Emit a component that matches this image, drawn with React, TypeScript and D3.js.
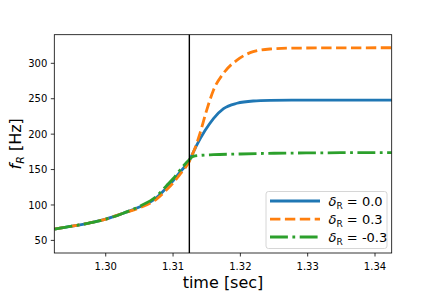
import React from "react";
import * as d3 from "d3";

const W = 436;
const H = 291;

// time axis ticks
const xTicks = [1.3, 1.31, 1.32, 1.33, 1.34];
const yTicks = [50, 100, 150, 200, 250, 300];
const mergerTime = 1.31242;

// series samples
const blueTime = [1.2924, 1.295, 1.2975, 1.3, 1.3025, 1.305, 1.3075, 1.309, 1.31, 1.311, 1.312, 1.3124, 1.3126, 1.3135, 1.31475, 1.316, 1.3175, 1.3195, 1.3219, 1.3244, 1.33, 1.3425];
const blueFreq = [66, 70, 74.5, 80, 88, 97, 110, 124, 134, 146, 157, 162, 166, 184, 205, 222, 236, 243.6, 246.8, 247.6, 248, 248];

const orangeTime = [1.2924, 1.295, 1.2975, 1.3, 1.3025, 1.305, 1.3075, 1.309, 1.31, 1.311, 1.312, 1.3124, 1.3126, 1.313, 1.314, 1.315, 1.316, 1.3175, 1.3195, 1.3219, 1.3244, 1.328, 1.3425];
const orangeFreq = [66, 70, 74.5, 80, 88, 96, 108, 121, 131, 143, 155, 161, 166, 174, 201, 234, 262, 286, 304.6, 316.4, 320.2, 321.5, 322];

const greenTime = [1.2924, 1.295, 1.2975, 1.3, 1.3025, 1.305, 1.3075, 1.309, 1.31, 1.311, 1.312, 1.3124, 1.3126, 1.313, 1.314, 1.316, 1.32, 1.325, 1.33, 1.3425];
const greenFreq = [66, 70, 74.5, 80, 88, 98, 112, 127, 137, 149, 160, 164, 166, 168.5, 170, 171, 172, 173, 173.5, 174];

const seriesNames = ["0.0", "0.3", "-0.3"];
const seriesColors = ["#1f77b4", "#ff7f0e", "#2ca02c"];
const seriesDash = ["none", "10.4,4.5", "17.9,4.5,2.8,4.5"];

const margin = { left: 54.3, right: W - 391.7, top: 34.7, bottom: H - 253 };

export default function App() {
  const x = d3.scaleLinear().domain([1.29236, 1.34248]).range([margin.left, W - margin.right]);
  const y = d3.scaleLinear().domain([32.2, 340.4]).range([H - margin.bottom, margin.top]);

  const line = d3
    .line<[number, number]>()
    .x((d) => x(d[0]))
    .y((d) => y(d[1]))
    .curve(d3.curveMonotoneX);

  const series = [
    { t: blueTime, f: blueFreq },
    { t: orangeTime, f: orangeFreq },
    { t: greenTime, f: greenFreq },
  ];

  const x0 = margin.left;
  const x1 = W - margin.right;
  const y0 = H - margin.bottom;
  const y1 = margin.top;
  const font = "DejaVu Sans, sans-serif";

  const lg = { x: 266, y: 191.5, w: 121, h: 57 };
  const rowY = [201, 219.2, 237];

  return (
    <svg
      width={W}
      height={H}
      style={{ position: "absolute", left: 0, top: 0, background: "#fff" }}
      fontFamily={font}
    >
      <defs>
        <clipPath id="plotclip">
          <rect x={x0} y={y1} width={x1 - x0} height={y0 - y1} />
        </clipPath>
      </defs>
      <g clipPath="url(#plotclip)">
        {series.map((s, i) => (
          <path
            key={i}
            d={line(s.t.map((t, j) => [t, s.f[j]] as [number, number])) || ""}
            fill="none"
            stroke={seriesColors[i]}
            strokeWidth={2.8}
            strokeDasharray={seriesDash[i]}
          />
        ))}
      </g>
      <line x1={x(mergerTime)} x2={x(mergerTime)} y1={y1} y2={y0} stroke="#000" strokeWidth={1.4} />

      {/* spines */}
      <rect x={x0} y={y1} width={x1 - x0} height={y0 - y1} fill="none" stroke="#000" strokeWidth={0.8} />

      {/* x ticks */}
      {xTicks.map((t) => (
        <g key={t}>
          <line x1={x(t)} x2={x(t)} y1={y0} y2={y0 + 3.5} stroke="#000" strokeWidth={0.8} />
          <text x={x(t)} y={y0 + 16.5} fontSize={10} textAnchor="middle" fill="#000">
            {t.toFixed(2)}
          </text>
        </g>
      ))}
      {/* y ticks */}
      {yTicks.map((v) => (
        <g key={v}>
          <line x1={x0 - 3.5} x2={x0} y1={y(v)} y2={y(v)} stroke="#000" strokeWidth={0.8} />
          <text x={x0 - 7} y={y(v) + 3.6} fontSize={10} textAnchor="end" fill="#000">
            {v}
          </text>
        </g>
      ))}

      {/* axis labels */}
      <text x={(x0 + x1) / 2} y={288} fontSize={16} textAnchor="middle" fill="#000">
        time [sec]
      </text>
      <text transform={`translate(21,${(y0 + y1) / 2}) rotate(-90)`} fontSize={16} textAnchor="middle" fill="#000">
        <tspan fontStyle="italic">f</tspan>
        <tspan fontStyle="italic" fontSize={11} dy={3}>R</tspan>
        <tspan dy={-3}> [Hz]</tspan>
      </text>

      {/* legend */}
      <rect x={lg.x} y={lg.y} width={lg.w} height={lg.h} rx={2.5} fill="#fff" fillOpacity={0.8} stroke="#cccccc" strokeWidth={0.8} />
      {seriesNames.map((n, i) => (
        <g key={n}>
          <line x1={270} x2={320} y1={rowY[i]} y2={rowY[i]} stroke={seriesColors[i]} strokeWidth={2.8} strokeDasharray={seriesDash[i]} />
          <text x={328.5} y={rowY[i] + 4.5} fontSize={13} fill="#000">
            <tspan fontStyle="italic">δ</tspan>
            <tspan fontSize={9} dy={3}>R</tspan>
            <tspan dy={-3}> = {n}</tspan>
          </text>
        </g>
      ))}
    </svg>
  );
}
